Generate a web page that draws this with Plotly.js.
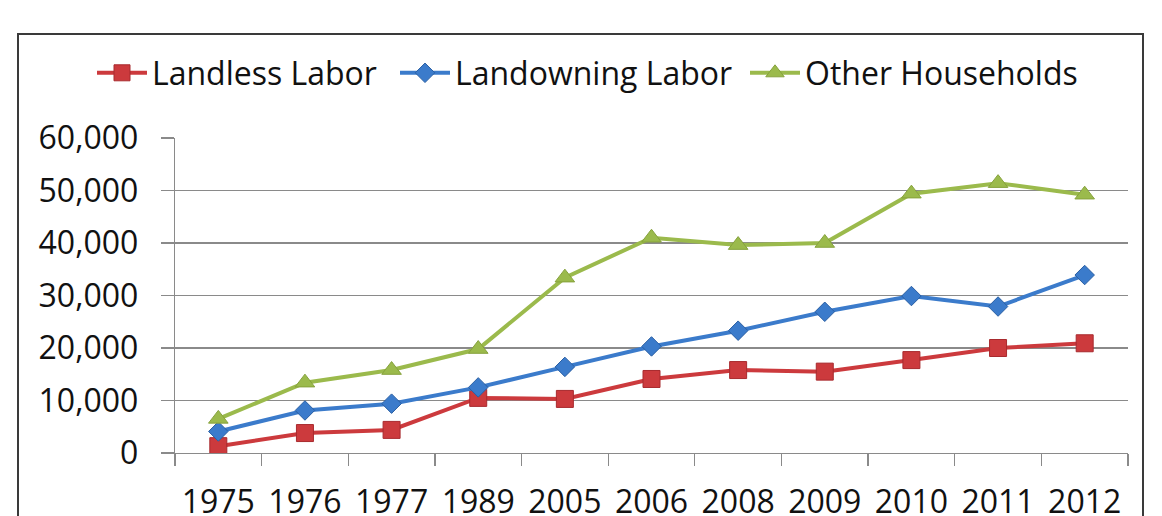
<!DOCTYPE html>
<html>
<head>
<meta charset="utf-8">
<script src="https://cdn.plot.ly/plotly-3.0.1.min.js"></script>
<style>
  html, body { margin: 0; padding: 0; background: #ffffff; overflow: hidden; }
  #chart { width: 1162px; height: 516px; }
</style>
</head>
<body>
<div id="chart"></div>
<script>
// Survey years (category axis)
const years = ['1975', '1976', '1977', '1989', '2005', '2006', '2008', '2009', '2010', '2011', '2012'];

// Household income by group
const landlessLabor   = [1300, 3800, 4400, 10500, 10300, 14100, 15800, 15500, 17700, 20000, 20900];
const landowningLabor = [4100, 8100, 9400, 12500, 16400, 20300, 23300, 26900, 29900, 27900, 33900];
const otherHouseholds = [6500, 13400, 15800, 19800, 33400, 41000, 39600, 40000, 49400, 51400, 49200];

const seriesNames = ['Landless Labor', 'Landowning Labor', 'Other Households'];

const FONT = '"Open Sans", "Noto Sans", sans-serif';
const GRID = '#8a8a8a';

// plot area in pixels: x 175..1128, y 138..453
const L = 175, R = 1128, T = 138, B = 453;
const px = v => (v - L) / (R - L);
const py = v => (B - v) / (B - T);

const traces = [
  {
    x: years, y: landlessLabor, name: seriesNames[0], type: 'scatter', mode: 'lines+markers',
    line: { color: '#CC3A3D', width: 4 },
    marker: { symbol: 'square', size: 17, color: '#CC3A3D', line: { color: '#A82A2E', width: 1 } },
    legend: 'legend'
  },
  {
    x: years, y: landowningLabor, name: seriesNames[1], type: 'scatter', mode: 'lines+markers',
    line: { color: '#3B7BCB', width: 4 },
    marker: { symbol: 'diamond', size: 15, color: '#3B7BCB', line: { color: '#2A5FA3', width: 1 } },
    legend: 'legend2'
  },
  {
    x: years, y: otherHouseholds, name: seriesNames[2], type: 'scatter', mode: 'lines+markers',
    line: { color: '#9BBA4C', width: 4 },
    marker: { symbol: 'triangle-up', size: 17, color: '#9BBA4C', line: { color: '#86A23C', width: 1 } },
    legend: 'legend3'
  }
];

const legendBase = {
  orientation: 'h', yanchor: 'middle', xanchor: 'left', y: py(73),
  itemwidth: 50,
  font: { family: FONT, size: 32, color: '#111111' },
  bgcolor: 'rgba(0,0,0,0)', borderwidth: 0
};

const layout = {
  width: 1162, height: 516,
  margin: { l: L, r: 1162 - R, t: T, b: 516 - B, pad: 0 },
  paper_bgcolor: '#ffffff', plot_bgcolor: '#ffffff',
  font: { family: FONT, color: '#111111' },
  showlegend: true,
  legend:  Object.assign({}, legendBase, { x: px(92) }),
  legend2: Object.assign({}, legendBase, { x: px(395) }),
  legend3: Object.assign({}, legendBase, { x: px(745) }),
  xaxis: {
    type: 'category',
    range: [-0.5, years.length - 0.5],
    tickson: 'boundaries',
    ticks: 'outside', ticklen: 12, tickwidth: 1.3, tickcolor: GRID,
    showline: true, linecolor: GRID, linewidth: 1.3,
    showgrid: false, zeroline: false,
    tickfont: { family: FONT, size: 32, color: '#111111' },
    ticklabelstandoff: 20,
    fixedrange: true
  },
  yaxis: {
    range: [0, 60000], dtick: 10000, tickformat: ',',
    ticks: 'outside', ticklen: 13, tickwidth: 1.3, tickcolor: GRID,
    showline: true, linecolor: GRID, linewidth: 1.3,
    showgrid: true, gridcolor: GRID, gridwidth: 1.3,
    zeroline: false,
    tickfont: { family: FONT, size: 32, color: '#111111' },
    ticklabelstandoff: 16,
    fixedrange: true
  },
  shapes: [
    {
      type: 'rect', xref: 'paper', yref: 'paper',
      x0: px(18), x1: px(1143), y0: py(560), y1: py(34),
      line: { color: '#3a3a3a', width: 2 }, fillcolor: 'rgba(0,0,0,0)', layer: 'above'
    }
  ]
};

Plotly.newPlot('chart', traces, layout, { displayModeBar: false, staticPlot: true });
</script>
</body>
</html>
